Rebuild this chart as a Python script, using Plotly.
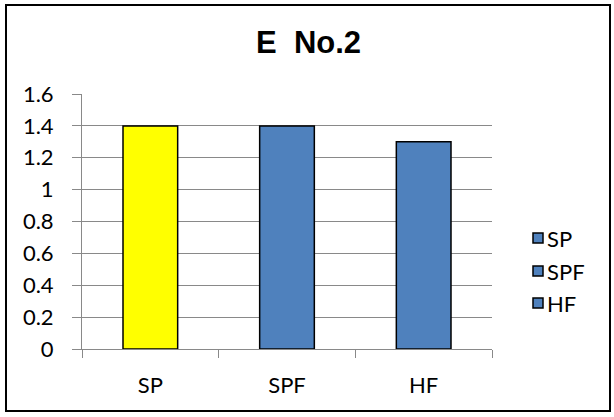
import plotly.graph_objects as go

categories = ["SP", "SPF", "HF"]
values = [1.4, 1.4, 1.3]
bar_colors = ["#FFFF00", "#4F81BD", "#4F81BD"]
legend_labels = ["SP", "SPF", "HF"]
legend_colors = ["#4F81BD", "#4F81BD", "#4F81BD"]
y_ticks = [0, 0.2, 0.4, 0.6, 0.8, 1, 1.2, 1.4, 1.6]
y_tick_text = ["0", "0.2", "0.4", "0.6", "0.8", "1", "1.2", "1.4", "1.6"]
title_text = "E  No.2"

W, H = 614, 417
L, R, T, B = 82, 122, 94, 68
pw, ph = W - L - R, H - T - B

def px(x):
    return (x - L) / pw

def py(y):
    return (H - B - y) / ph

fig = go.Figure()
fig.add_trace(go.Bar(
    x=categories, y=values, width=0.4,
    marker=dict(color=bar_colors, line=dict(color="#000000", width=1.5)),
    showlegend=False, hoverinfo="x+y",
))

grid_col = "#898989"
FS = 22
fig.update_layout(
    width=W, height=H,
    margin=dict(l=L, r=R, t=T, b=B, autoexpand=False),
    paper_bgcolor="white", plot_bgcolor="white",
    font=dict(family="Lato, Open Sans, sans-serif", size=FS, color="#000000"),
    xaxis=dict(
        type="category", showgrid=False, showline=True, linecolor=grid_col, linewidth=1,
        ticks="outside", tickson="boundaries", ticklen=8, tickcolor=grid_col,
        ticklabelstandoff=17, tickfont=dict(size=FS),
    ),
    yaxis=dict(
        range=[0, 1.6], tickvals=y_ticks, ticktext=y_tick_text,
        showgrid=True, gridcolor=grid_col, gridwidth=1,
        showline=True, linecolor=grid_col, linewidth=1,
        ticks="outside", ticklen=9, tickcolor=grid_col,
        ticklabelstandoff=14, zeroline=False, tickfont=dict(size=FS),
    ),
)

# title
fig.add_annotation(
    text=title_text, xref="paper", yref="paper", x=px(308), y=py(42),
    showarrow=False, xanchor="center", yanchor="middle",
    font=dict(family="Liberation Sans, Arial, sans-serif", size=31, color="#000000", weight="bold"),
)

# legend (squares + labels)
legend_y = [238, 271, 303]
for lab, col, yy in zip(legend_labels, legend_colors, legend_y):
    fig.add_shape(
        type="rect", xref="paper", yref="paper",
        x0=px(533), x1=px(543), y0=py(yy + 5), y1=py(yy - 5),
        fillcolor=col, line=dict(color="#000000", width=1.5),
    )
    fig.add_annotation(
        text=lab, xref="paper", yref="paper", x=px(545), y=py(yy),
        showarrow=False, xanchor="left", yanchor="middle",
        font=dict(size=FS, color="#000000"),
    )

# outer chart border
fig.add_shape(
    type="rect", xref="paper", yref="paper",
    x0=px(6), x1=px(610), y0=py(411), y1=py(5),
    line=dict(color="#000000", width=2), fillcolor="rgba(0,0,0,0)", layer="below",
)

fig.write_html("out.html", config={"displayModeBar": False},
               post_script="document.body.style.margin='0';")
